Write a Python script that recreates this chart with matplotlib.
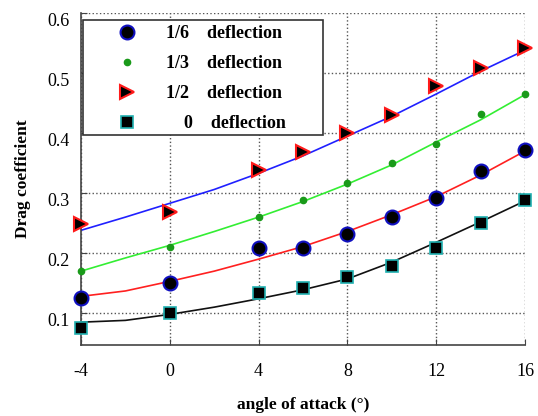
import matplotlib
matplotlib.use('Agg')
from matplotlib import pyplot as plt
from matplotlib.patches import Rectangle

plt.rcParams['font.family'] = ['Liberation Serif', 'DejaVu Serif']
plt.rcParams['axes.unicode_minus'] = False

# angle of attack (deg)
alpha = [-4, 0, 4, 6, 8, 10, 12, 14, 16]

# measured drag coefficients
cd_16 = [0.125, 0.150, 0.208, 0.208, 0.232, 0.260, 0.292, 0.336, 0.372]
cd_13 = [0.170, 0.211, 0.260, 0.289, 0.316, 0.350, 0.381, 0.431, 0.465]
cd_12 = [0.248, 0.269, 0.338, 0.368, 0.400, 0.430, 0.478, 0.508, 0.541]
cd_0 = [0.076, 0.101, 0.133, 0.142, 0.160, 0.179, 0.208, 0.250, 0.288]

# fitted curves
fit_x = [-4, -2, 0, 2, 4, 6, 8, 10, 12, 14, 16]
fit_16 = [0.128, 0.137, 0.153, 0.170, 0.190, 0.211, 0.236, 0.264, 0.294, 0.330, 0.370]
fit_13 = [0.170, 0.192, 0.213, 0.236, 0.260, 0.286, 0.315, 0.347, 0.385, 0.422, 0.464]
fit_12 = [0.238, 0.260, 0.283, 0.306, 0.333, 0.362, 0.395, 0.428, 0.465, 0.503, 0.538]
fit_0 = [0.085, 0.088, 0.098, 0.110, 0.124, 0.139, 0.157, 0.185, 0.218, 0.252, 0.287]

labels = ['1/6    deflection', '1/3    deflection', '1/2    deflection', '    0    deflection']

fig = plt.figure(figsize=(5.38, 4.16), dpi=100)
ax = fig.add_axes([0.1506, 0.1707, 0.8252, 0.7981])

ax.plot(fit_x, fit_12, color='#2020ff', lw=1.2, zorder=2)
ax.plot(fit_x, fit_13, color='#33ee33', lw=1.2, zorder=2)
ax.plot(fit_x, fit_16, color='#ff2020', lw=1.2, zorder=2)
ax.plot(fit_x, fit_0, color='#111111', lw=1.2, zorder=2)

ax.plot(alpha, cd_16, 'o', ms=10, mfc='black', mec='#1010c0', mew=1.5,
        label=labels[0], clip_on=False, zorder=3)
ax.plot(alpha, cd_13, 'o', ms=4.5, mfc='#1a9a1a', mec='#1a9a1a',
        label=labels[1], clip_on=False, zorder=3)
ax.plot(alpha, cd_12, '>', ms=10, mfc='black', mec='#ff1a1a', mew=1.5,
        label=labels[2], clip_on=False, zorder=3)
ax.plot(alpha, cd_0, 's', ms=8.5, mfc='black', mec='#20b0b0', mew=1.2,
        label=labels[3], clip_on=False, zorder=3)

ax.set_xlim(-4, 16)
ax.set_ylim(0.047, 0.6)
ax.set_xticks([-4, 0, 4, 8, 12, 16])
ax.set_yticks([0.1, 0.2, 0.3, 0.4, 0.5, 0.6])
ax.grid(True, ls=':', color='#555555', lw=1)
ax.spines['top'].set_visible(False)
ax.spines['right'].set_visible(False)
for s in ['left', 'bottom']:
    ax.spines[s].set_color('#444444')
    ax.spines[s].set_linewidth(1.2)
ax.tick_params(axis='both', direction='in', length=4, color='#444444', labelsize=13)
ax.tick_params(axis='x', pad=13)
ax.tick_params(axis='y', pad=8)
plt.setp(ax.get_yticklabels(), va='top')

ax.set_xlabel('angle of attack (°)', fontsize=12.5, fontweight='bold', labelpad=12)
ax.set_ylabel('Drag coefficient', fontsize=12.5, fontweight='bold', labelpad=12)

# legend box drawn separately so it can be wider than the entries
box = Rectangle((0.0045, 0.6325), 0.5405, 0.3465, transform=ax.transAxes,
                facecolor='white', edgecolor='#333333', lw=1.2, zorder=4)
ax.add_patch(box)
leg = ax.legend(loc='upper left', bbox_to_anchor=(0.005, 0.98), borderaxespad=0,
                prop={'weight': 'bold', 'size': 13}, frameon=False,
                handlelength=4.2, handletextpad=0.1, borderpad=0.3, labelspacing=0.72)
leg.set_zorder(5)

fig.savefig('out.png', dpi=100)
